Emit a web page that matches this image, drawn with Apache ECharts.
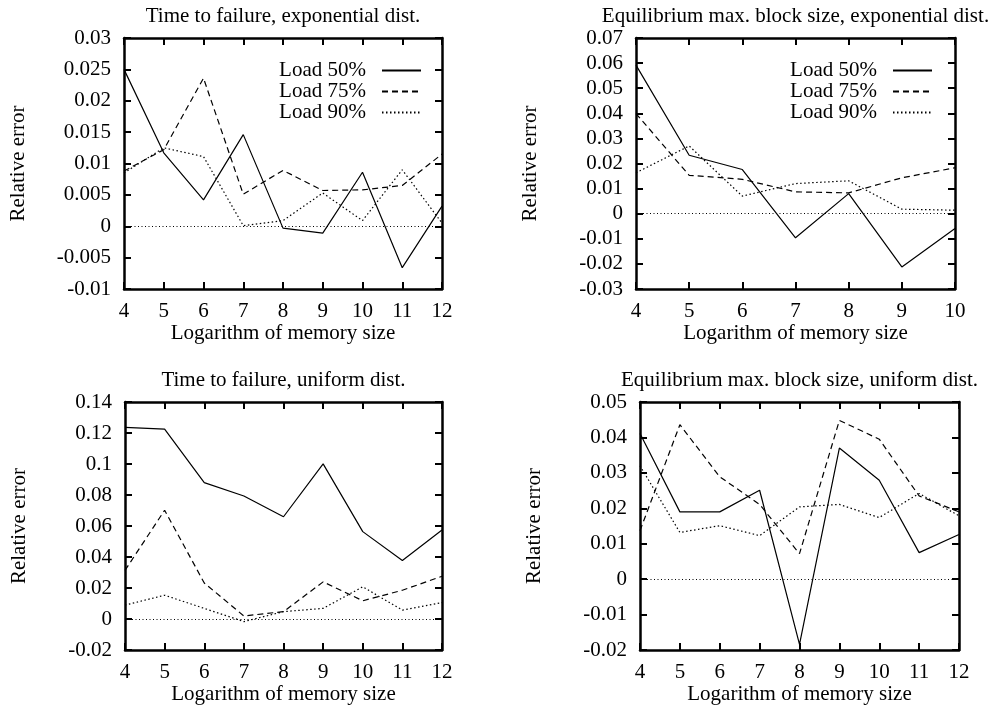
<!DOCTYPE html>
<html>
<head>
<meta charset="utf-8">
<script src="https://cdn.jsdelivr.net/npm/echarts@6/dist/echarts.min.js"></script>
<style>
html, body { margin: 0; padding: 0; background: #fff; }
#chart { width: 991px; height: 706px; }
</style>
</head>
<body>
<div id="chart"></div>
<script>
const logMemSize = [4, 5, 6, 7, 8, 9, 10, 11, 12];
const logMemSizeShort = [4, 5, 6, 7, 8, 9, 10];
const seriesNames = ["Load 50%", "Load 75%", "Load 90%"];

// time to failure, exponential dist.
const ttfExp50 = [0.025, 0.0117, 0.0042, 0.0146, -0.0003, -0.0011, 0.0086, -0.0066, 0.0032];
const ttfExp75 = [0.0088, 0.0122, 0.0236, 0.0051, 0.0089, 0.0057, 0.0058, 0.0065, 0.0115];
const ttfExp90 = [0.0085, 0.0125, 0.0111, 0.0001, 0.0009, 0.0053, 0.0009, 0.009, 0.0005];
// equilibrium max. block size, exponential dist.
const blockExp50 = [0.0592, 0.0233, 0.0176, -0.0096, 0.008, -0.0212, -0.0059];
const blockExp75 = [0.0399, 0.0153, 0.0137, 0.0087, 0.0083, 0.0143, 0.0183];
const blockExp90 = [0.0163, 0.027, 0.007, 0.012, 0.0131, 0.0018, 0.0014];
// time to failure, uniform dist.
const ttfUni50 = [0.1236, 0.1225, 0.088, 0.0794, 0.066, 0.1001, 0.0564, 0.0378, 0.0574];
const ttfUni75 = [0.0314, 0.0702, 0.0233, 0.002, 0.0048, 0.024, 0.0118, 0.0186, 0.0276];
const ttfUni90 = [0.009, 0.0154, 0.0069, -0.0016, 0.0048, 0.0069, 0.0208, 0.0058, 0.0107];
// equilibrium max. block size, uniform dist.
const blockUni50 = [0.0411, 0.019, 0.019, 0.0251, -0.0184, 0.037, 0.0279, 0.0075, 0.0126];
const blockUni75 = [0.0137, 0.0436, 0.0289, 0.0211, 0.0072, 0.0448, 0.0395, 0.0235, 0.019];
const blockUni90 = [0.032, 0.0132, 0.0151, 0.0123, 0.0204, 0.0211, 0.0174, 0.0242, 0.0179];

const panels = [
    { title: "Time to failure, exponential dist.", xs: logMemSize, ys: [ttfExp50, ttfExp75, ttfExp90],
      yMin: -0.01, yMax: 0.03, yStep: 0.005, xMax: 12,
      grid: { left: 124, top: 38, width: 318, height: 251 }, legendRight: 569 },
    { title: "Equilibrium max. block size, exponential dist.", xs: logMemSizeShort, ys: [blockExp50, blockExp75, blockExp90],
      yMin: -0.03, yMax: 0.07, yStep: 0.01, xMax: 10,
      grid: { left: 636, top: 38, width: 319, height: 251 }, legendRight: 58 },
    { title: "Time to failure, uniform dist.", xs: logMemSize, ys: [ttfUni50, ttfUni75, ttfUni90],
      yMin: -0.02, yMax: 0.14, yStep: 0.02, xMax: 12,
      grid: { left: 125, top: 402, width: 317, height: 250 } },
    { title: "Equilibrium max. block size, uniform dist.", xs: logMemSize, ys: [blockUni50, blockUni75, blockUni90],
      yMin: -0.02, yMax: 0.05, yStep: 0.01, xMax: 12,
      grid: { left: 640, top: 402, width: 319, height: 251 } }
];

const font = "'Liberation Serif', 'Times New Roman', serif";
const dashTypes = ["solid", [6, 4], [1.5, 2.5]];
const border = { show: true, onZero: false, lineStyle: { color: "#000", width: 2.5 } };
const ticks = { show: true, inside: true, length: 7, lineStyle: { color: "#000", width: 2 } };

var chart = echarts.init(document.getElementById("chart"), null, { renderer: "canvas" });

const titles = [], grids = [], xAxes = [], yAxes = [], series = [], legends = [];

panels.forEach((p, i) => {
    grids.push(p.grid);
    titles.push({
        text: p.title,
        left: p.grid.left + p.grid.width / 2,
        top: p.grid.top - 32,
        textAlign: "center",
        padding: 0,
        textStyle: { fontFamily: font, fontSize: 21, fontWeight: "normal", color: "#000" }
    });
    xAxes.push({
        type: "value", gridIndex: i, min: 4, max: p.xMax, interval: 1, position: "bottom",
        name: "Logarithm of memory size", nameLocation: "middle", nameGap: 33,
        nameTextStyle: { fontFamily: font, fontSize: 21, color: "#000" },
        axisLine: border, axisTick: ticks, splitLine: { show: false },
        axisLabel: { fontFamily: font, fontSize: 21, color: "#000", margin: 12, showMinLabel: true, showMaxLabel: true }
    });
    xAxes.push({
        type: "value", gridIndex: i, min: 4, max: p.xMax, interval: 1, position: "top",
        axisLine: border, axisTick: ticks, splitLine: { show: false }, axisLabel: { show: false }
    });
    yAxes.push({
        type: "value", gridIndex: i, min: p.yMin, max: p.yMax, interval: p.yStep, position: "left",
        name: "Relative error", nameLocation: "middle", nameGap: 95,
        nameTextStyle: { fontFamily: font, fontSize: 21, color: "#000" },
        axisLine: border, axisTick: ticks, splitLine: { show: false },
        axisLabel: { fontFamily: font, fontSize: 21, color: "#000", margin: 13,
            showMinLabel: true, showMaxLabel: true,
            formatter: v => String(+v.toFixed(4)) }
    });
    yAxes.push({
        type: "value", gridIndex: i, min: p.yMin, max: p.yMax, interval: p.yStep, position: "right",
        axisLine: border, axisTick: ticks, splitLine: { show: false }, axisLabel: { show: false }
    });

    p.ys.forEach((ys, k) => {
        const s = {
            name: seriesNames[k],
            type: "line",
            xAxisIndex: 2 * i,
            yAxisIndex: 2 * i,
            data: p.xs.map((x, j) => [x, ys[j]]),
            symbol: "none",
            lineStyle: { color: "#000", width: 1.2, type: dashTypes[k] },
            itemStyle: { color: "#000" },
            emphasis: { disabled: true },
            silent: true,
            z: 3
        };
        if (k === 0) {
            s.markLine = {
                silent: true,
                symbol: "none",
                label: { show: false },
                lineStyle: { color: "#000", width: 1, type: [1, 2.5] },
                data: [{ yAxis: 0 }]
            };
        }
        series.push(s);
    });

    if (p.legendRight !== undefined) {
        legends.push({
            data: seriesNames,
            orient: "vertical",
            align: "right",
            right: p.legendRight,
            top: p.grid.top + 22,
            itemWidth: 39,
            itemHeight: 14,
            itemGap: 0,
            padding: 0,
            selectedMode: false,
            itemStyle: { opacity: 0 },
            textStyle: { fontFamily: font, fontSize: 21, lineHeight: 21, color: "#000", padding: [0, 11, 0, 0] }
        });
    }
});

chart.setOption({
    animation: false,
    backgroundColor: "#fff",
    title: titles,
    grid: grids,
    xAxis: xAxes,
    yAxis: yAxes,
    legend: legends,
    series: series
});
</script>
</body>
</html>
